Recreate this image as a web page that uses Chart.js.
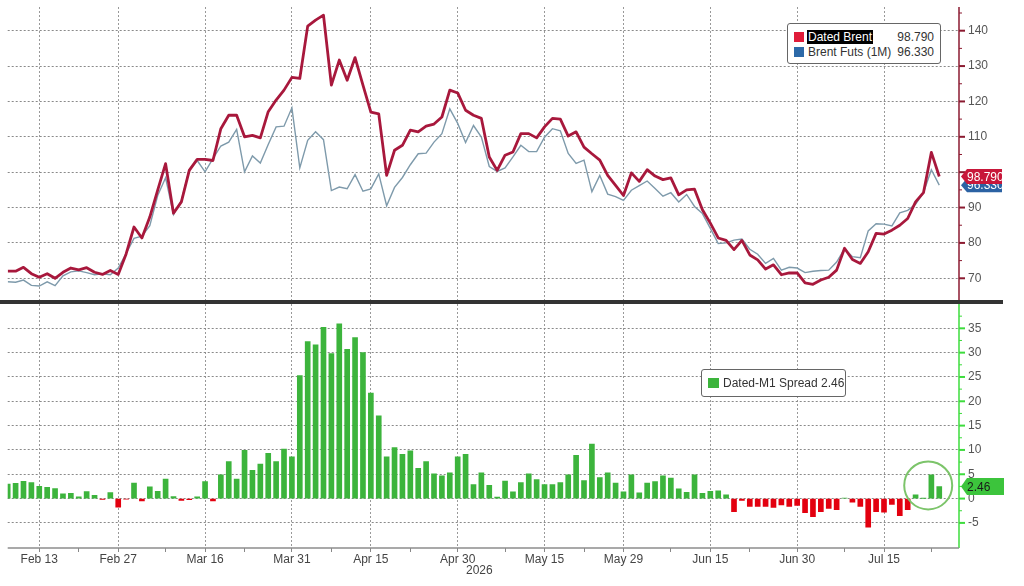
<!DOCTYPE html>
<html>
<head>
<meta charset="utf-8">
<script src="https://cdn.jsdelivr.net/npm/chart.js@4.4.1/dist/chart.umd.min.js"></script>
<style>
  html, body { margin: 0; padding: 0; background: #fff; }
  #wrap { position: relative; width: 1024px; height: 586px; overflow: hidden;
          font-family: "Liberation Sans", Arial, sans-serif; }
  #topChart { position: absolute; left: 0; top: 0; }
  #bottomChart { position: absolute; left: 0; top: 304px; }
  #sep { position: absolute; left: 0; top: 300px; width: 1003px; height: 4px; background: #333; }
  .legend { position: absolute; background: #fff; border: 1px solid #666; border-radius: 3px;
            font-size: 12px; color: #333; }
  .legend span { position: absolute; line-height: 14px; white-space: nowrap; }
  .legend .sw { width: 10px; height: 10px; }
  .legend .hi { background: #000; color: #fff; padding: 0 1px; }
  #year { position: absolute; left: 466px; top: 563px; font-size: 12px; color: #444; }
</style>
</head>
<body>
<div id="wrap">
  <canvas id="topChart" width="1024" height="300"></canvas>
  <canvas id="bottomChart" width="1024" height="282"></canvas>
  <div id="sep"></div>

  <div class="legend" style="left:787px;top:23px;width:152px;height:39px;">
    <span class="sw" style="left:6px;top:8px;background:#e01c3a"></span>
    <span class="hi" style="left:19px;top:6px">Dated Brent</span>
    <span id="datedVal" style="right:6px;top:6px"></span>
    <span class="sw" style="left:6px;top:23px;background:#2c69a8"></span>
    <span style="left:20px;top:21px">Brent Futs (1M)</span>
    <span id="futsVal" style="right:6px;top:21px"></span>
  </div>

  <div class="legend" style="left:701px;top:369px;width:143px;height:26px;">
    <span class="sw" style="left:6px;top:8px;width:11px;background:#3cb43c"></span>
    <span id="spreadLbl" style="left:21px;top:6px"></span>
  </div>

  <div id="year">2026</div>
</div>

<script>
// Business-day calendar shown on the x axis
const startDate = '2026-02-09';
const endDate = '2026-07-24';
const holidays = ['2026-04-03'];

// Labelled dates on the x axis and the small in-between ticks
const tickDates = ['2026-02-13', '2026-02-27', '2026-03-16', '2026-03-31', '2026-04-15', '2026-04-30',
                   '2026-05-15', '2026-05-29', '2026-06-15', '2026-06-30', '2026-07-15'];
const minorTickDates = ['2026-02-20', '2026-03-09', '2026-03-23', '2026-04-08', '2026-04-22', '2026-05-08',
                        '2026-05-22', '2026-06-08', '2026-06-22', '2026-07-08', '2026-07-23'];

// Dated Brent, $/bbl
const dated = [
  72.0, 72.0, 73.1, 71.3, 70.3, 71.3, 70.0, 71.7, 72.9, 72.4, 73.0, 71.7, 71.1, 72.2, 71.1,
  76.9, 84.5, 81.4, 87.3, 94.9, 102.4, 88.4, 91.6, 100.5, 103.6, 103.6, 103.3, 112.3, 116.1, 116.1,
  110.0, 110.4, 109.7, 117.1, 120.4, 123.2, 126.8, 126.5, 141.3, 143.0, 144.4, 124.6, 131.7,
  126.0, 132.4, 124.6, 117.0, 116.5, 99.1, 106.2, 107.6, 111.9, 111.4, 113.0, 113.6, 115.6, 123.2,
  122.4, 117.5, 116.1, 115.2, 104.3, 100.5, 104.8, 105.7, 110.9, 110.9, 109.7, 112.8, 115.2, 115.0,
  110.2, 111.4, 107.1, 105.2, 103.4, 99.1, 96.3, 93.4, 99.8, 97.4, 100.7, 98.9, 97.9, 98.4,
  93.6, 95.0, 95.2, 89.4, 85.6, 81.4, 80.7, 78.1, 80.7, 76.6, 75.2, 72.6, 73.8, 71.0, 71.5, 71.5,
  68.7, 68.3, 69.5, 70.3, 72.3, 78.5, 75.3, 74.2, 77.5, 82.7, 82.5, 83.6, 85.0, 86.9, 91.6, 94.2,
  105.6, 98.79
];

// Brent futures, front month, $/bbl
const futs = [
  69.0, 68.9, 69.5, 68.0, 67.8, 69.0, 67.9, 70.7, 71.8, 72.1, 71.6, 71.0, 71.3, 71.0, 72.9,
  77.0, 81.3, 81.9, 84.9, 93.4, 98.4, 88.0, 92.0, 100.7, 103.3, 100.1, 103.8, 107.4, 108.5, 112.1,
  100.1, 104.6, 102.6, 107.8, 112.8, 113.0, 118.2, 101.2, 109.0, 111.4, 109.2, 94.8, 95.8,
  95.3, 99.3, 94.6, 95.3, 99.5, 90.5, 95.7, 98.5, 102.1, 105.2, 105.4, 108.5, 110.9, 117.9,
  113.8, 108.4, 113.2, 109.9, 101.6, 100.2, 101.2, 104.3, 107.6, 105.8, 105.8, 109.9, 112.3, 111.7,
  105.3, 102.5, 103.4, 94.5, 99.1, 93.8, 93.1, 92.0, 94.9, 96.2, 97.5, 95.4, 93.2, 94.2,
  91.6, 93.7, 90.3, 88.3, 84.1, 79.8, 80.0, 80.8, 81.1, 78.2, 76.8, 74.2, 75.6, 72.3, 73.1, 72.9,
  71.6, 72.0, 72.2, 72.3, 74.6, 78.4, 76.1, 75.8, 83.4, 85.4, 85.3, 84.8, 88.5, 89.2, 90.9, 94.2,
  100.7, 96.33
];

// Dated minus M1 spread, $/bbl
const spread = [
  3.0, 3.15, 3.57, 3.3, 2.5, 2.3, 2.06, 0.96, 1.1, 0.34, 1.44, 0.69, -0.15, 1.23, -1.78,
  -0.1, 3.2, -0.5, 2.4, 1.5, 4.0, 0.4, -0.4, -0.2, 0.35, 3.5, -0.5, 4.9, 7.6, 4.0, 9.9, 5.8, 7.1,
  9.3, 7.6, 10.2, 8.6, 25.3, 32.3, 31.6, 35.2, 29.8, 35.9,
  30.7, 33.1, 30.0, 21.7, 17.0, 8.6, 10.5, 9.1, 9.8, 6.2, 7.6, 5.1, 4.7, 5.3, 8.6, 9.1, 2.9, 5.3,
  2.7, 0.3, 3.6, 1.4, 3.3, 5.1, 3.9, 2.9, 2.9, 3.3, 4.9, 8.9, 3.7, 11.2, 4.3, 5.3, 3.2, 1.4, 4.9,
  1.2, 3.2, 3.5, 4.7, 4.2,
  2.0, 1.3, 4.9, 1.1, 1.5, 1.6, 0.75, -2.7, -0.4, -1.6, -1.6, -1.6, -1.8, -1.3, -1.6, -1.4, -2.9,
  -3.7, -2.7, -2.0, -2.3, 0.1, -0.75, -1.6, -5.9, -2.7, -2.8, -1.2, -3.5, -2.3, 0.75, 0.05, 4.9, 2.46
];

const priceTicks = [70, 80, 90, 100, 110, 120, 130, 140];
const spreadTicks = [-5, 0, 5, 10, 15, 20, 25, 30, 35];

const FONT = '"Liberation Sans", Arial, sans-serif';
const MONTHS = ['Jan', 'Feb', 'Mar', 'Apr', 'May', 'Jun', 'Jul', 'Aug', 'Sep', 'Oct', 'Nov', 'Dec'];
const X_MAX = 120.5;   // a little room after the last day
const AXIS_W = 65;     // width kept for the right-hand axes

// build the weekday calendar
const dates = [];
for (let d = new Date(startDate + 'T12:00:00Z'); d <= new Date(endDate + 'T12:00:00Z'); d.setUTCDate(d.getUTCDate() + 1)) {
  const iso = d.toISOString().slice(0, 10);
  const wd = d.getUTCDay();
  if (wd !== 0 && wd !== 6 && !holidays.includes(iso)) dates.push(iso);
}
const majorIdx = tickDates.map(t => dates.indexOf(t));
const minorIdx = minorTickDates.map(t => dates.indexOf(t));

function fmtDate(iso) {
  const p = iso.split('-');
  return MONTHS[+p[1] - 1] + ' ' + (+p[2]);
}

const last = arr => arr[arr.length - 1];
document.getElementById('datedVal').textContent = last(dated).toFixed(3);
document.getElementById('futsVal').textContent = last(futs).toFixed(3);
document.getElementById('spreadLbl').textContent = 'Dated-M1 Spread ' + last(spread).toFixed(2);

// keep the plot area exactly where the layout padding puts it
function noPad(s) {
  s.paddingTop = 0;
  s.paddingBottom = 0;
  s.paddingLeft = 0;
  s.paddingRight = 0;
}

// right-hand axis line with major / minor tick marks
function rightAxis(id, color, majors, minorStep) {
  return {
    id: id,
    afterDraw(chart) {
      const { ctx, chartArea: a, scales: { y } } = chart;
      ctx.save();
      ctx.strokeStyle = color;
      ctx.lineWidth = 1.5;
      ctx.beginPath();
      ctx.moveTo(a.right, a.top);
      ctx.lineTo(a.right, a.bottom);
      ctx.stroke();
      majors.forEach(v => {
        const py = y.getPixelForValue(v);
        ctx.lineWidth = 2;
        ctx.beginPath();
        ctx.moveTo(a.right, py);
        ctx.lineTo(a.right + 6, py);
        ctx.stroke();
        const m = y.getPixelForValue(v + minorStep);
        if (m > a.top) {
          ctx.lineWidth = 1;
          ctx.beginPath();
          ctx.moveTo(a.right, m);
          ctx.lineTo(a.right + 3, m);
          ctx.stroke();
        }
      });
      ctx.restore();
    }
  };
}

function drawTag(ctx, x, y, w, h, fill, text, textColor) {
  ctx.save();
  ctx.beginPath();
  ctx.moveTo(x, y);
  ctx.lineTo(x + 6, y - h / 2);
  ctx.lineTo(x + w, y - h / 2);
  ctx.lineTo(x + w, y + h / 2);
  ctx.lineTo(x + 6, y + h / 2);
  ctx.closePath();
  ctx.fillStyle = fill;
  ctx.fill();
  ctx.fillStyle = textColor;
  ctx.font = '12px ' + FONT;
  ctx.textAlign = 'left';
  ctx.textBaseline = 'middle';
  ctx.fillText(text, x + 6, y + 1);
  ctx.restore();
}

// Top panel: prices
const priceTags = {
  id: 'priceTags',
  afterDraw(chart) {
    const { ctx, chartArea: a, scales: { y } } = chart;
    drawTag(ctx, a.right + 2, y.getPixelForValue(last(futs)), 41, 14, '#2b62a3', last(futs).toFixed(3), '#fff');
    drawTag(ctx, a.right + 2, y.getPixelForValue(last(dated)), 41, 15, '#c8173a', last(dated).toFixed(3), '#fff');
  }
};

new Chart(document.getElementById('topChart'), {
  type: 'line',
  data: {
    datasets: [
      {
        label: 'Dated Brent',
        data: dated.map((v, i) => ({ x: i, y: v })),
        borderColor: '#a8183c',
        borderWidth: 2.8,
        borderJoinStyle: 'round',
        pointRadius: 0,
        tension: 0
      },
      {
        label: 'Brent Futs (1M)',
        data: futs.map((v, i) => ({ x: i, y: v })),
        borderColor: '#7e9aab',
        borderWidth: 1.4,
        pointRadius: 0,
        tension: 0
      }
    ]
  },
  options: {
    responsive: false,
    animation: false,
    events: [],
    layout: { padding: { left: 7.7, top: 7, right: 0, bottom: 0 } },
    plugins: { legend: { display: false }, tooltip: { enabled: false } },
    scales: {
      x: {
        type: 'linear',
        min: 0,
        max: X_MAX,
        afterBuildTicks: s => { s.ticks = majorIdx.map(v => ({ value: v })); },
        afterFit: s => { noPad(s); s.height = 0; },
        ticks: { display: false },
        grid: { color: '#999', lineWidth: 1, drawTicks: false },
        border: { display: false, dash: [2, 2] }
      },
      y: {
        position: 'right',
        min: 63.86,
        max: 146.7,
        afterBuildTicks: s => { s.ticks = priceTicks.map(v => ({ value: v })); },
        afterFit: s => { noPad(s); s.width = AXIS_W; },
        ticks: {
          color: '#555',
          font: { size: 12, family: FONT },
          padding: 9,
          // the price tags sit over the label they would collide with
          callback: v => (Math.abs(v - last(dated)) < 3 ? '' : String(v))
        },
        grid: { color: '#8a8a8a', lineWidth: 1, drawTicks: false },
        border: { display: false, dash: [2, 2] }
      }
    }
  },
  plugins: [rightAxis('priceAxis', '#8b1a30', priceTicks, 5), priceTags]
});

// Bottom panel: spread bars
const spreadExtras = {
  id: 'spreadExtras',
  afterDraw(chart) {
    const { ctx, chartArea: a, scales: { x, y } } = chart;
    ctx.save();
    // x axis line
    ctx.strokeStyle = '#8c8c8c';
    ctx.lineWidth = 1.5;
    ctx.beginPath();
    ctx.moveTo(a.left, a.bottom);
    ctx.lineTo(a.right, a.bottom);
    ctx.stroke();
    // circle round the latest bars
    ctx.strokeStyle = '#7cc46a';
    ctx.lineWidth = 2;
    ctx.beginPath();
    ctx.arc(x.getPixelForValue(116.6), y.getPixelForValue(2.7), 24, 0, Math.PI * 2);
    ctx.stroke();
    ctx.restore();
    drawTag(ctx, a.right + 2, y.getPixelForValue(last(spread)), 43, 17, '#3cc43c', last(spread).toFixed(2), '#1a1a1a');
  }
};

new Chart(document.getElementById('bottomChart'), {
  type: 'bar',
  data: {
    datasets: [{
      label: 'Dated-M1 Spread',
      data: spread.map((v, i) => ({ x: i, y: v })),
      backgroundColor: ctx => (ctx.raw && ctx.raw.y < 0 ? '#e3000f' : '#3cb43c'),
      barThickness: 5,
      borderWidth: 0
    }]
  },
  options: {
    responsive: false,
    animation: false,
    events: [],
    layout: { padding: { left: 7.7, top: 0, right: 0, bottom: 0 } },
    plugins: { legend: { display: false }, tooltip: { enabled: false } },
    scales: {
      x: {
        type: 'linear',
        offset: false,
        min: 0,
        max: X_MAX,
        afterBuildTicks: s => {
          s.ticks = majorIdx.concat(minorIdx).sort((p, q) => p - q).map(v => ({ value: v }));
        },
        afterFit: s => { noPad(s); s.height = 38; },
        ticks: {
          autoSkip: false,
          maxRotation: 0,
          padding: 0,
          color: '#444',
          font: { size: 12, family: FONT },
          callback: v => (majorIdx.includes(v) ? fmtDate(dates[v]) : '')
        },
        grid: {
          offset: false,
          color: c => (c.tick && majorIdx.includes(c.tick.value) ? '#999' : 'rgba(0,0,0,0)'),
          lineWidth: 1,
          drawTicks: true,
          tickLength: 4,
          tickColor: '#888'
        },
        border: { display: false, dash: [2, 2] }
      },
      y: {
        position: 'right',
        min: -10.16,
        max: 40,
        afterBuildTicks: s => { s.ticks = spreadTicks.map(v => ({ value: v })); },
        afterFit: s => { noPad(s); s.width = AXIS_W; },
        ticks: { color: '#555', font: { size: 12, family: FONT }, padding: 9 },
        grid: { color: '#8a8a8a', lineWidth: 1, drawTicks: false },
        border: { display: false, dash: [2, 2] }
      }
    }
  },
  plugins: [rightAxis('spreadAxis', '#3ddc3d', spreadTicks, 2.5), spreadExtras]
});
</script>
</body>
</html>
